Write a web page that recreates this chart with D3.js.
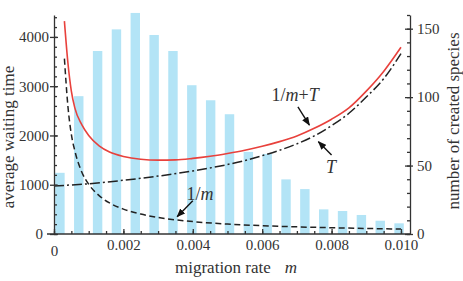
<!DOCTYPE html>
<html>
<head>
<meta charset="utf-8">
<script src="https://cdn.jsdelivr.net/npm/d3@7"></script>
<style>
  body { margin: 0; background: #fff; }
  svg text { font-family: "Liberation Serif", "Times New Roman", serif; fill: #333; }
</style>
</head>
<body>
<div id="chart"></div>
<script>
// Datos
const bins = ["1","2","3","4","5","6","7","8","9","10","11","12","13","14","15","16","17","18","19"];
const speciesCounts = [44.7, 100.7, 133.7, 149.5, 161.5, 145.4, 133.7, 108.7, 97.7, 87.5, 60, 58.5, 39.9, 32.8, 18, 16.8, 13.9, 9.7, 7.8];

// curva 1/m (discontinua)
const invM_rate = [0.0003, 0.0004, 0.0005, 0.0006, 0.0008, 0.001, 0.0013, 0.0016, 0.002, 0.0025, 0.003, 0.0035, 0.004, 0.005, 0.006, 0.007, 0.008, 0.009, 0.010];
const invM_value = [3560, 2600, 2020, 1690, 1260, 1010, 780, 630, 505, 405, 335, 288, 252, 202, 168, 145, 127, 112, 100];

// curva T (raya-punto)
const T_rate = [0, 0.001, 0.002, 0.003, 0.004, 0.005, 0.0055, 0.006, 0.0065, 0.007, 0.0075, 0.008, 0.0085, 0.009, 0.0095, 0.010];
const T_value = [975, 1020, 1090, 1175, 1280, 1410, 1490, 1590, 1700, 1830, 1990, 2200, 2450, 2780, 3150, 3660];

// curva 1/m+T (roja)
const sum_rate = [0.0003, 0.0004, 0.0005, 0.0006, 0.0008, 0.001, 0.0013, 0.0016, 0.002, 0.0025, 0.003, 0.0035, 0.004, 0.0045, 0.005, 0.0055, 0.006, 0.0065, 0.007, 0.0075, 0.008, 0.0085, 0.009, 0.0095, 0.010];
const sum_value = [4320, 3480, 2900, 2560, 2220, 2000, 1790, 1665, 1575, 1518, 1500, 1505, 1535, 1578, 1635, 1700, 1780, 1875, 1990, 2145, 2330, 2560, 2900, 3300, 3790];

const xTicks = [0, 0.002, 0.004, 0.006, 0.008, 0.010];
const xTickLabels = ["0", "0.002", "0.004", "0.006", "0.008", "0.010"];
const leftTicks = [0, 1000, 2000, 3000, 4000];
const rightTicks = [0, 50, 100, 150];

const width = 463, height = 281;
const plot = { left: 54, right: 410, top: 15, bottom: 234 };
const fontFamily = '"Liberation Serif", "Times New Roman", serif';

const svg = d3.select("#chart")
    .append("svg")
    .attr("width", width)
    .attr("height", height)
    .attr("font-family", fontFamily);

// Escalas
const x = d3.scaleLinear().domain([0, 0.01026]).range([plot.left, plot.right]);
const xBand = d3.scaleBand().domain(bins).range([50.5, 408.5]).paddingInner(0.5).paddingOuter(0.25);
const yL = d3.scaleLinear().domain([0, 4445]).range([plot.bottom, plot.top]);
const yR = d3.scaleLinear().domain([0, 160]).range([plot.bottom, plot.top]);

// Barras
svg.append("g")
    .selectAll("rect")
    .data(speciesCounts)
    .enter()
    .append("rect")
    .attr("x", (d, i) => xBand(bins[i]))
    .attr("y", d => yR(d))
    .attr("width", xBand.bandwidth())
    .attr("height", d => yR(0) - yR(d))
    .attr("fill", "#b3e4f6");

// Curvas
const line = d3.line().x(d => x(d[0])).y(d => yL(d[1])).curve(d3.curveMonotoneX);

svg.append("path")
    .datum(T_rate.map((m, i) => [m, T_value[i]]))
    .attr("d", line)
    .attr("fill", "none")
    .attr("stroke", "#222")
    .attr("stroke-width", 1.5)
    .attr("stroke-dasharray", "10,3,2,3");

svg.append("path")
    .datum(invM_rate.map((m, i) => [m, invM_value[i]]))
    .attr("d", line)
    .attr("fill", "none")
    .attr("stroke", "#222")
    .attr("stroke-width", 1.5)
    .attr("stroke-dasharray", "6,3.5");

svg.append("path")
    .datum(sum_rate.map((m, i) => [m, sum_value[i]]))
    .attr("d", line)
    .attr("fill", "none")
    .attr("stroke", "#e8413c")
    .attr("stroke-width", 1.6);

// Ejes
const axisColor = "#333";
function styleAxis(g) {
    g.attr("font-family", fontFamily);
    g.selectAll("path, line").attr("stroke", axisColor).attr("stroke-width", 1.3);
    g.selectAll("text").style("font-size", "15px").attr("fill", axisColor);
}

// eje x
svg.append("g")
    .attr("transform", `translate(0,${plot.bottom})`)
    .call(d3.axisBottom(x).tickValues(d3.range(0, 0.01025, 0.0005)).tickSize(-3).tickFormat(""))
    .call(g => g.select(".domain").remove())
    .call(styleAxis);
svg.append("g")
    .attr("transform", `translate(0,${plot.bottom})`)
    .call(d3.axisBottom(x).tickValues(xTicks).tickFormat((d, i) => xTickLabels[i]).tickSizeInner(-5).tickSizeOuter(0).tickPadding(5))
    .call(styleAxis)
    .call(g => g.select(".domain").attr("d", `M${plot.left - 7},0H${plot.right}`))
    .call(g => g.selectAll(".tick text").filter(d => d === 0).attr("dy", "1.15em"));

// eje izquierdo
svg.append("g")
    .attr("transform", `translate(${plot.left},0)`)
    .call(d3.axisLeft(yL).tickValues(d3.range(0, 4401, 200)).tickSize(-3).tickFormat(""))
    .call(g => g.select(".domain").remove())
    .call(styleAxis);
svg.append("g")
    .attr("transform", `translate(${plot.left},0)`)
    .call(d3.axisLeft(yL).tickValues(leftTicks).tickSizeInner(4).tickSizeOuter(0).tickPadding(1).tickFormat(d3.format("d")))
    .call(styleAxis)
    .call(g => g.selectAll(".tick line").attr("x1", 4))
    .call(g => g.selectAll(".tick text").filter(d => d === 0).attr("x", -11));

// eje derecho
svg.append("g")
    .attr("transform", `translate(${plot.right},0)`)
    .call(d3.axisRight(yR).tickValues(d3.range(0, 161, 10)).tickSize(-3).tickFormat(""))
    .call(g => g.select(".domain").remove())
    .call(styleAxis);
svg.append("g")
    .attr("transform", `translate(${plot.right},0)`)
    .call(d3.axisRight(yR).tickValues(rightTicks).tickSizeInner(3).tickSizeOuter(0).tickPadding(4))
    .call(styleAxis)
    .call(g => g.selectAll(".tick line").attr("x1", -5));

// Títulos
svg.append("text")
    .attr("transform", `translate(14,137) rotate(-90)`)
    .style("text-anchor", "middle")
    .style("font-size", "17px")
    .text("average waiting time");

svg.append("text")
    .attr("transform", `translate(459,121) rotate(-90)`)
    .style("text-anchor", "middle")
    .style("font-size", "17px")
    .text("number of created species");

const xt = svg.append("text")
    .attr("x", 175)
    .attr("y", 273)
    .style("font-size", "17px");
xt.append("tspan").text("migration rate");
xt.append("tspan").attr("dx", 14).style("font-style", "italic").text("m");

// Anotaciones con flechas
svg.append("defs").append("marker")
    .attr("id", "arrow")
    .attr("viewBox", "0 0 10 8")
    .attr("refX", 9)
    .attr("refY", 4)
    .attr("markerWidth", 9)
    .attr("markerHeight", 7)
    .attr("markerUnits", "userSpaceOnUse")
    .attr("orient", "auto")
    .append("path")
    .attr("d", "M0,0L10,4L0,8z")
    .attr("fill", "#111");

const notes = [
    { parts: [["1/", false], ["m", true], ["+", false], ["T", true]], m: 0.00695, v: 2700, from: [0.00703, 2578], to: [0.00736, 2212] },
    { parts: [["T", true]], m: 0.00798, v: 1238, from: [0.0080, 1603], to: [0.00762, 1873] },
    { parts: [["1/", false], ["m", true]], m: 0.00421, v: 690, from: [0.0040, 676], to: [0.00355, 351] }
];

notes.forEach(n => {
    const t = svg.append("text")
        .attr("x", x(n.m))
        .attr("y", yL(n.v))
        .style("text-anchor", "middle")
        .style("font-size", "18px")
        .attr("fill", "#222");
    n.parts.forEach(p => t.append("tspan").style("font-style", p[1] ? "italic" : "normal").text(p[0]));
    svg.append("line")
        .attr("x1", x(n.from[0])).attr("y1", yL(n.from[1]))
        .attr("x2", x(n.to[0])).attr("y2", yL(n.to[1]))
        .attr("stroke", "#111")
        .attr("stroke-width", 1.4)
        .attr("marker-end", "url(#arrow)");
});
</script>
</body>
</html>
